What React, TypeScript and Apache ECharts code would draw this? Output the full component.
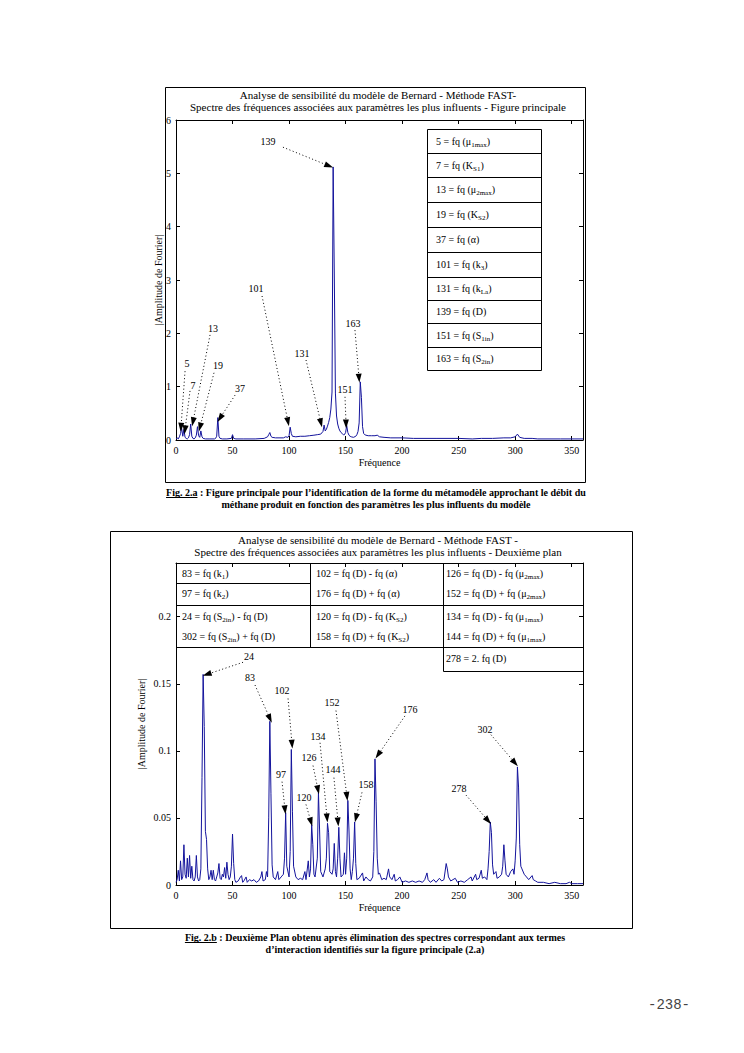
import React, { useEffect, useRef } from "react";
import * as echarts from "echarts";

const SERIF = '"Liberation Serif", "Times New Roman", serif';
const MONO = '"Liberation Mono", "DejaVu Sans Mono", monospace';
const LINE_COLOR = "#14149c";

// ---------- Fig 2.a : main spectrum ----------
const freqA = [0,1,2,3,4,5,6,7,8,9,10,11,12,13,14,15,16,17,18,19,20,21,22,23,24,26,30,34,35,36,37,38,39,41,45,49,50,51,53,60,70,78,81,82,83,84,85,88,92,95,97,99,100,101,102,103,106,110,114,118,122,125,128,130,131,132,133,134,135,136,137,138,139,140,141,142,143,144,145,146,147,148,149,150,151,152,153,154,155,157,159,160,161,162,163,164,165,166,167,168,170,173,176,178,180,184,190,200,210,230,250,262,270,280,290,296,300,302,304,308,315,320,340,360];
const ampA = [0.02,0.04,0.02,0.06,0.12,0.22,0.07,0.2,0.05,0.03,0.02,0.04,0.1,0.3,0.07,0.03,0.02,0.04,0.09,0.25,0.08,0.05,0.17,0.06,0.03,0.02,0.02,0.02,0.03,0.07,0.42,0.07,0.03,0.02,0.02,0.03,0.1,0.03,0.02,0.02,0.02,0.03,0.06,0.1,0.14,0.07,0.05,0.04,0.04,0.04,0.06,0.05,0.08,0.24,0.12,0.07,0.06,0.07,0.07,0.08,0.09,0.1,0.11,0.16,0.28,0.17,0.2,0.26,0.33,0.42,0.58,0.9,5.12,3.15,0.88,0.45,0.3,0.22,0.17,0.14,0.12,0.1,0.1,0.14,0.27,0.14,0.09,0.07,0.06,0.05,0.07,0.1,0.16,0.32,1.09,0.8,0.25,0.12,0.1,0.09,0.08,0.08,0.08,0.09,0.06,0.05,0.04,0.04,0.03,0.03,0.03,0.02,0.03,0.03,0.04,0.04,0.06,0.11,0.05,0.03,0.03,0.02,0.02,0.02];

// ---------- Fig 2.b : second plan ----------
const freqB = [0,1,2,3,4,5,6,7,8,9,10,11,12,13,14,15,16,17,18,19,20,21,22,23,24,25,26,27,28,29,30,31,32,33,34,35,36,37,38,39,40,41,42,43,44,45,46,47,48,49,50,51,52,53,55,57,58,59,60,62,63,65,67,69,71,73,75,76,77,79,80,81,82,83,84,85,86,88,90,91,93,95,96,97,98,100,101,102,103,104,106,108,110,112,114,115,117,118,119,120,121,122,123,125,126,127,128,130,132,133,134,135,136,138,139,140,141,142,143,144,145,146,148,149,150,151,152,153,154,155,156,157,158,159,160,162,165,166,168,170,172,174,175,176,177,178,179,180,182,184,186,188,189,191,193,194,196,198,200,203,206,209,212,215,218,220,222,223,225,228,230,233,235,237,239,240,241,243,245,247,249,252,255,258,261,262,265,266,268,270,271,273,275,276,277,278,279,280,281,283,284,286,288,289,290,291,292,294,296,298,299,300,301,302,303,304,305,306,308,310,312,315,316,318,320,325,330,335,340,345,348,350,355,360];
const ampB = [0.002,0.004,0.011,0.003,0.018,0.004,0.006,0.03,0.008,0.005,0.02,0.006,0.022,0.005,0.014,0.004,0.003,0.006,0.022,0.006,0.003,0.004,0.012,0.08,0.157,0.118,0.04,0.034,0.012,0.004,0.006,0.011,0.004,0.011,0.004,0.003,0.006,0.009,0.016,0.005,0.004,0.008,0.006,0.013,0.005,0.017,0.008,0.004,0.006,0.014,0.038,0.016,0.004,0.002,0.003,0.006,0.007,0.002,0.003,0.006,0.002,0.004,0.003,0.004,0.002,0.003,0.006,0.01,0.003,0.004,0.01,0.006,0.05,0.122,0.068,0.015,0.006,0.004,0.01,0.004,0.006,0.008,0.02,0.054,0.014,0.006,0.025,0.101,0.055,0.014,0.006,0.004,0.005,0.004,0.01,0.004,0.018,0.006,0.012,0.045,0.03,0.008,0.006,0.02,0.069,0.041,0.01,0.006,0.012,0.02,0.046,0.039,0.01,0.008,0.012,0.031,0.01,0.006,0.02,0.043,0.02,0.006,0.008,0.024,0.008,0.02,0.063,0.041,0.012,0.004,0.01,0.02,0.047,0.016,0.004,0.005,0.009,0.003,0.006,0.004,0.003,0.006,0.025,0.094,0.062,0.02,0.008,0.009,0.004,0.005,0.004,0.012,0.006,0.004,0.008,0.003,0.004,0.006,0.002,0.003,0.002,0.003,0.002,0.003,0.002,0.004,0.009,0.004,0.002,0.004,0.002,0.005,0.003,0.004,0.016,0.012,0.006,0.003,0.004,0.005,0.002,0.003,0.002,0.004,0.006,0.003,0.008,0.004,0.005,0.011,0.005,0.006,0.004,0.012,0.025,0.047,0.039,0.015,0.008,0.01,0.005,0.006,0.008,0.014,0.03,0.018,0.008,0.006,0.01,0.012,0.008,0.018,0.035,0.088,0.073,0.03,0.014,0.012,0.008,0.006,0.004,0.007,0.004,0.003,0.002,0.002,0.001,0.002,0.001,0.001,0.002,0.001,0.001,0.001];

// ---------- annotations (data units): label, dotted-line start, arrow tip ----------
const annA_text = ["139", "101", "131", "163", "151", "13", "5", "7", "19", "37"];
const annA_label = [[81.4, 5.59], [70.8, 2.85], [111.4, 1.63], [156.6, 2.19], [149.5, 0.94], [32.7, 2.1], [9.7, 1.43], [15, 1.03], [37.1, 1.39], [56.6, 0.96]];
const annA_from = [[94.6, 5.49], [76.1, 2.7], [115, 1.5], [158.3, 2.06], [149.5, 0.81], [30.1, 1.97], [8, 1.29], [12.4, 0.92], [33.6, 1.26], [52.2, 0.84]];
const annA_to = [[135.3, 5.14], [99.1, 0.34], [128.2, 0.32], [161.9, 1.16], [150.4, 0.3], [15, 0.34], [4.4, 0.24], [8, 0.19], [21.2, 0.24], [38.9, 0.41]];

const annB_text = ["24", "83", "102", "152", "176", "134", "126", "144", "97", "120", "158", "302", "278"];
const annB_label = [[64.6, 0.17], [65.5, 0.155], [93.8, 0.145], [138, 0.136], [207, 0.131], [125.6, 0.111], [117.6, 0.095], [138.9, 0.086], [92.9, 0.082], [113.2, 0.065], [168.1, 0.075], [273.3, 0.116], [250.3, 0.072]];
const annB_from = [[59.3, 0.166], [69.9, 0.149], [99.1, 0.139], [141.5, 0.13], [202.5, 0.126], [127.4, 0.106], [121.2, 0.089], [139.7, 0.08], [93.8, 0.077], [115, 0.06], [164.5, 0.069], [278.6, 0.112], [256.5, 0.067]];
const annB_to = [[27.4, 0.157], [83.1, 0.124], [102.6, 0.105], [151.2, 0.066], [178.7, 0.097], [133.6, 0.05], [125.6, 0.071], [143.3, 0.047], [96.4, 0.056], [119.4, 0.047], [159.2, 0.05], [299.8, 0.091], [276, 0.048]];

// ---------- tables ----------
const tableA = ["5 = fq (μ_{1max})", "7 = fq (K_{S1})", "13 = fq (μ_{2max})", "19 = fq (K_{S2})", "37 = fq (α)", "101 = fq (k_{3})", "131 = fq (k_{La})", "139 = fq (D)", "151 = fq (S_{1in})", "163 = fq (S_{2in})"];
const tableB_col1 = ["83 = fq (k_{1})", "97 = fq (k_{2})", "24 = fq (S_{2in}) - fq (D)", "302 = fq (S_{2in}) + fq (D)"];
const tableB_col2 = ["102 = fq (D) - fq (α)", "176 = fq (D) + fq (α)", "120 = fq (D) - fq (K_{S2})", "158 = fq (D) + fq (K_{S2})"];
const tableB_col3 = ["126 = fq (D) - fq (μ_{2max})", "152 = fq (D) + fq (μ_{2max})", "134 = fq (D) - fq (μ_{1max})", "144 = fq (D) + fq (μ_{1max})", "278 = 2. fq (D)"];

const titleA = ["Analyse de sensibilité du modèle de Bernard - Méthode FAST-", "Spectre des fréquences associées aux paramètres les plus influents - Figure principale"];
const titleB = ["Analyse de sensibilité du modèle de Bernard - Méthode FAST -", "Spectre des fréquences associées aux paramètres les plus influents - Deuxième plan"];
const captionA = ["Fig. 2.a", " : Figure principale pour l’identification de la forme du métamodèle approchant le débit du", "méthane produit en fonction des paramètres les plus influents du modèle"];
const captionB = ["Fig. 2.b", " : Deuxième Plan obtenu après élimination des spectres correspondant aux termes", "d’interaction identifiés sur la figure principale (2.a)"];

function rich(s: string) {
  return "{n|" + s.replace(/_\{([^}]*)\}/g, "}{s|$1}{n|") + "}";
}
const RICH = {
  n: { fontSize: 10, fontFamily: SERIF, fill: "#000", color: "#000" },
  s: { fontSize: 7, fontFamily: SERIF, fill: "#000", color: "#000", padding: [7, 0, 0, 0] },
};

function measure(txt: string, font: string) {
  const c = document.createElement("canvas").getContext("2d");
  if (!c) return txt.length * 5;
  c.font = font;
  return c.measureText(txt).width;
}

function textEl(x: number, y: number, text: string, extra: any = {}) {
  return {
    type: "text", x, y, z: 50, silent: true,
    style: { text, fill: "#000", fontSize: 10, fontFamily: SERIF, textAlign: "left", textVerticalAlign: "middle", verticalAlign: "middle", ...extra },
  };
}
function richEl(x: number, y: number, s: string) {
  return {
    type: "text", x, y, z: 50, silent: true,
    style: { text: rich(s), rich: RICH, fill: "#000", fontSize: 10, fontFamily: SERIF, textAlign: "left", textVerticalAlign: "middle", verticalAlign: "middle" },
  };
}
function lineEl(x1: number, y1: number, x2: number, y2: number) {
  return { type: "line", z: 50, silent: true, shape: { x1, y1, x2, y2 }, style: { stroke: "#000", lineWidth: 1 } };
}
function rectEl(x: number, y: number, w: number, h: number) {
  return { type: "rect", z: 50, silent: true, shape: { x, y, width: w, height: h }, style: { fill: "none", stroke: "#000", lineWidth: 1 } };
}

function captionEls(cx: number, y1: number, y2: number, cap: string[]) {
  const font = "bold 10px " + SERIF;
  const wFig = measure(cap[0], font);
  const wAll = measure(cap[0] + cap[1], font);
  const left = cx - wAll / 2;
  return [
    textEl(left, y1, cap[0] + cap[1], { fontWeight: "bold" }),
    lineEl(left, y1 + 5.5, left + wFig, y1 + 5.5),
    textEl(cx, y2, cap[2], { fontWeight: "bold", textAlign: "center" }),
  ];
}

function axisPair(grid: number, bottomName: string | null) {
  const base = {
    gridIndex: grid, type: "value", min: 0, max: 360, interval: 50,
    axisLine: { show: true, onZero: false, lineStyle: { color: "#000", width: 1 } },
    axisTick: { show: true, inside: true, length: 4, lineStyle: { color: "#000" } },
    splitLine: { show: false },
  };
  return [
    {
      ...base, position: "bottom",
      axisLabel: { show: true, color: "#000", fontFamily: SERIF, fontSize: 10, margin: 5, showMaxLabel: false },
      name: bottomName, nameLocation: "middle", nameGap: 17, nameMoveOverlap: false,
      nameTextStyle: { color: "#000", fontFamily: SERIF, fontSize: 10 },
    },
    { ...base, position: "top", axisLabel: { show: false } },
  ];
}
function yPair(grid: number, max: number, interval: number, nameGap: number) {
  const base = {
    gridIndex: grid, type: "value", min: 0, max, interval,
    axisLine: { show: true, onZero: false, lineStyle: { color: "#000", width: 1 } },
    axisTick: { show: true, inside: true, length: 4, lineStyle: { color: "#000" } },
    splitLine: { show: false },
  };
  return [
    {
      ...base, position: "left",
      axisLabel: { show: true, color: "#000", fontFamily: SERIF, fontSize: 10, margin: 5, showMaxLabel: max % interval === 0, formatter: (v: number) => String(+v.toFixed(4)) },
      name: "|Amplitude de Fourier|", nameLocation: "middle", nameRotate: 90, nameGap, nameMoveOverlap: false,
      nameTextStyle: { color: "#000", fontFamily: SERIF, fontSize: 10 },
    },
    { ...base, position: "right", axisLabel: { show: false } },
  ];
}

// dotted arrows drawn as a markLine on an empty helper series bound to the same axes
function arrowSeries(xi: number, yi: number, from: number[][], to: number[][]) {
  return {
    type: "line", xAxisIndex: xi, yAxisIndex: yi, silent: true, data: [], z: 20,
    markLine: {
      silent: true, animation: false, symbol: ["none", "triangle"], symbolSize: [6, 9],
      lineStyle: { type: [1, 2.5], color: "#000", width: 1 },
      itemStyle: { color: "#000" },
      label: { show: false },
      data: from.map((f, i) => [{ coord: f }, { coord: to[i] }]),
    },
  };
}

export default function App() {
  const ref = useRef<HTMLDivElement>(null);
  useEffect(() => {
    if (!ref.current) return;
    const chart = echarts.init(ref.current, null, { renderer: "svg" });

    const [xa0, xa1] = axisPair(0, "Fréquence");
    const [xb0, xb1] = axisPair(1, "Fréquence");
    const [ya0, ya1] = yPair(0, 6, 1, 13);
    const [yb0, yb1] = yPair(1, 0.24, 0.05, 30);

    chart.setOption({
      animation: false,
      backgroundColor: "#fff",
      grid: [
        { left: 176, top: 120, width: 407, height: 320, outerBoundsMode: "none", containLabel: false },
        { left: 176, top: 563, width: 407, height: 322, outerBoundsMode: "none", containLabel: false },
      ],
      xAxis: [xa0, xa1, xb0, xb1],
      yAxis: [ya0, ya1, yb0, yb1],
      series: [
        {
          type: "line", xAxisIndex: 0, yAxisIndex: 0, silent: true, showSymbol: false, symbol: "none",
          lineStyle: { color: LINE_COLOR, width: 1 }, itemStyle: { color: LINE_COLOR },
          data: freqA.map((f, i) => [f, ampA[i]]),
        },
        arrowSeries(0, 0, annA_from, annA_to),
        {
          type: "line", xAxisIndex: 2, yAxisIndex: 2, silent: true, showSymbol: false, symbol: "none",
          lineStyle: { color: LINE_COLOR, width: 1 }, itemStyle: { color: LINE_COLOR },
          data: freqB.map((f, i) => [f, ampB[i]]),
        },
        arrowSeries(2, 2, annB_from, annB_to),
      ],
    });

    const graphic: any[] = [];
    // outer frames
    graphic.push(rectEl(165.5, 87.5, 420, 395));
    graphic.push(rectEl(110.5, 531.5, 522, 397));
    // titles
    graphic.push(textEl(378, 95, titleA[0], { textAlign: "center", fontSize: 11 }));
    graphic.push(textEl(378, 107, titleA[1], { textAlign: "center", fontSize: 11 }));
    graphic.push(textEl(378, 540, titleB[0], { textAlign: "center", fontSize: 11 }));
    graphic.push(textEl(378, 552, titleB[1], { textAlign: "center", fontSize: 11 }));
    // table A
    const rowsA = [129, 153, 177, 202, 227, 252, 277, 300, 323, 347, 370];
    graphic.push(rectEl(427.5, 129.5, 114, 241));
    for (let i = 1; i < rowsA.length - 1; i++) graphic.push(lineEl(427.5, rowsA[i] + 0.5, 541.5, rowsA[i] + 0.5));
    tableA.forEach((s, i) => graphic.push(richEl(436, (rowsA[i] + rowsA[i + 1]) / 2, s)));
    // table B
    graphic.push(lineEl(176.5, 583.5, 310.5, 583.5));
    graphic.push(lineEl(176.5, 605.5, 583.5, 605.5));
    graphic.push(lineEl(176.5, 647.5, 583.5, 647.5));
    graphic.push(lineEl(443.5, 671.5, 583.5, 671.5));
    graphic.push(lineEl(310.5, 563.5, 310.5, 647.5));
    graphic.push(lineEl(443.5, 563.5, 443.5, 671.5));
    graphic.push(lineEl(583.5, 563.5, 583.5, 671.5));
    const rowsB = [573, 593, 616, 636, 658];
    tableB_col1.forEach((s, i) => graphic.push(richEl(182, rowsB[i], s)));
    tableB_col2.forEach((s, i) => graphic.push(richEl(316, rowsB[i], s)));
    tableB_col3.forEach((s, i) => graphic.push(richEl(446, rowsB[i], s)));
    // annotation numbers, placed through the axes' scales
    annA_text.forEach((t, i) => {
      const p = chart.convertToPixel({ gridIndex: 0 }, annA_label[i]) as number[];
      graphic.push(textEl(p[0], p[1], t, { textAlign: "center" }));
    });
    annB_text.forEach((t, i) => {
      const p = chart.convertToPixel({ gridIndex: 1 }, annB_label[i]) as number[];
      graphic.push(textEl(p[0], p[1], t, { textAlign: "center" }));
    });
    // captions
    graphic.push(...captionEls(376, 492, 504, captionA));
    graphic.push(...captionEls(375, 937, 949, captionB));
    // page number
    graphic.push(textEl(669, 1005, "-238-", { textAlign: "center", fontFamily: MONO, fontSize: 14, fill: "#444" }));

    chart.setOption({ graphic });
    return () => chart.dispose();
  }, []);
  return <div ref={ref} style={{ position: "absolute", left: 0, top: 0, width: 744, height: 1053, background: "#fff" }} />;
}
